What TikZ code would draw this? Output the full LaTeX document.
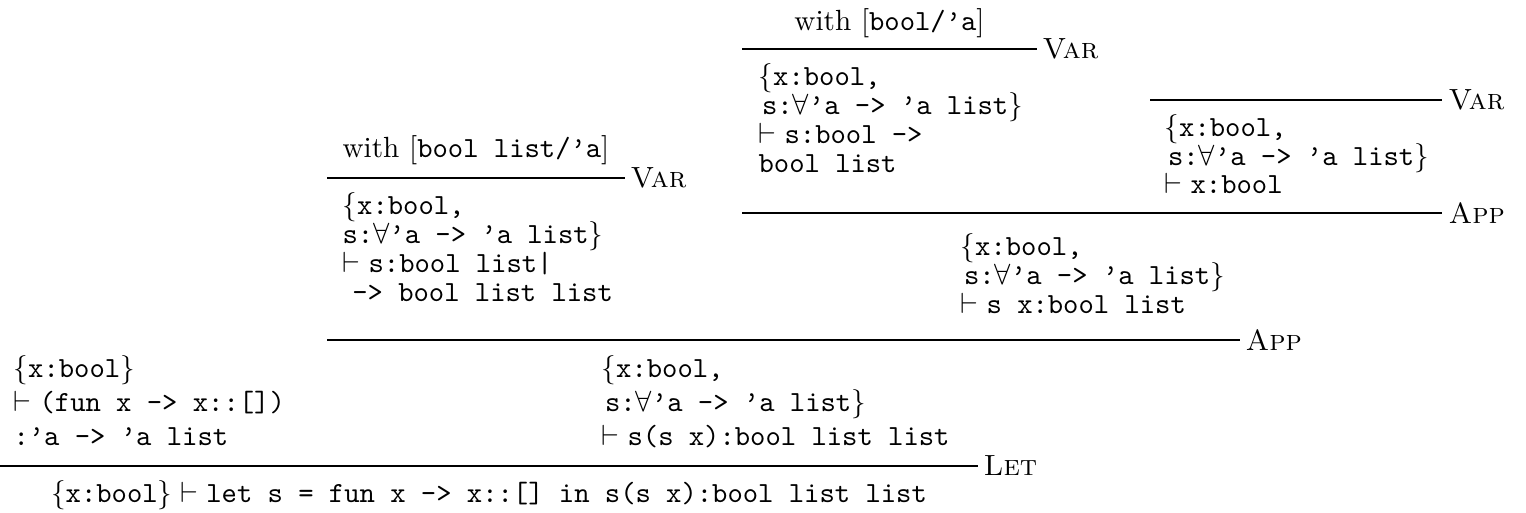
\documentclass[tikz,border=0pt]{standalone}
\begin{document}
\begin{tikzpicture}[x=0.34247pt,y=-0.34247pt,
  ln/.style={anchor=base west,inner sep=0pt},
  prem/.style={anchor=base,inner sep=0pt},
  rulel/.style={line width=0.5pt},
  lab/.style={anchor=west,inner sep=0pt,font=\scshape}]
\useasboundingbox (0,0) rectangle (1526,512);
\newcommand{\q}{\textquoteright}
\newcommand{\vd}{$\vdash$\hspace{2.8pt}}
\newcommand{\sig}{\texttt{s:}$\forall$\texttt{\q a -> \q a list}$\}$}
% ---- A: Var with [bool/'a]
\node[prem] (Ap) at (889.5,30) {with $[\texttt{bool/\q a}]$};
\coordinate (Al) at (742,49); \coordinate (Ar) at (1037,49);
\draw[rulel] (Al) -- (Ar);
\node[lab] (Alab) at (1042,49) {Var};
\node[ln] (A1) at (758,85) {$\{$\texttt{x:bool,}};
\node[ln] (A2) at (758,114) {\hspace{1.2pt}\sig};
\node[ln] (A3) at (758,143) {\vd\texttt{s:bool ->}};
\node[ln] (A4) at (758,172) {\texttt{bool list}};
% ---- B: Var
\coordinate (Bl) at (1150,100); \coordinate (Br) at (1442,100);
\draw[rulel] (Bl) -- (Br);
\node[lab] (Blab) at (1448,100) {Var};
\node[ln] (B1) at (1164,136) {$\{$\texttt{x:bool,}};
\node[ln] (B2) at (1164,165) {\hspace{1.2pt}\sig};
\node[ln] (B3) at (1164,193) {\vd\texttt{x:bool}};
% ---- C: App
\coordinate (Cl) at (742,213); \coordinate (Cr) at (1442,213);
\draw[rulel] (Cl) -- (Cr);
\node[lab] (Clab) at (1448,213) {App};
\node[ln] (C1) at (960,255) {$\{$\texttt{x:bool,}};
\node[ln] (C2) at (960,284) {\hspace{1.2pt}\sig};
\node[ln] (C3) at (960,313) {\vd\texttt{s x:bool list}};
% ---- D: Var with [bool list/'a]
\node[prem] (Dp) at (476,157) {with $[\texttt{bool list/\q a}]$};
\coordinate (Dl) at (327,178); \coordinate (Dr) at (625,178);
\draw[rulel] (Dl) -- (Dr);
\node[lab] (Dlab) at (630,178) {Var};
\node[ln] (D1) at (342,214) {$\{$\texttt{x:bool,}};
\node[ln] (D2) at (342,243) {\sig};
\node[ln] (D3) at (342,272) {\vd\texttt{s:bool list|}};
\node[ln] (D4) at (342,301) {\ \texttt{-> bool list list}};
% ---- E: App
\coordinate (El) at (327,340); \coordinate (Er) at (1240,340);
\draw[rulel] (El) -- (Er);
\node[lab] (Elab) at (1245,340) {App};
\node[ln] (E1) at (601,377) {$\{$\texttt{x:bool,}};
\node[ln] (E2) at (601,411) {\hspace{1.2pt}\sig};
\node[ln] (E3) at (601,445) {\vd\texttt{s(s x):bool list list}};
% ---- F: left premise
\node[ln] (F1) at (13,377) {$\{$\texttt{x:bool}$\}$};
\node[ln] (F2) at (13,411) {\vd\texttt{(fun x -> x::[])}};
\node[ln] (F3) at (13,445) {\texttt{:\q a -> \q a list}};
% ---- Let
\coordinate (Ll) at (0,466); \coordinate (Lr) at (978,466);
\draw[rulel] (Ll) -- (Lr);
\node[lab] (Llab) at (983,466) {Let};
\node[prem] (G) at (489,502) {$\{\texttt{x:bool}\}\vdash\texttt{let s = fun x -> x::[] in s(s x):bool list list}$};
\end{tikzpicture}
\end{document}
